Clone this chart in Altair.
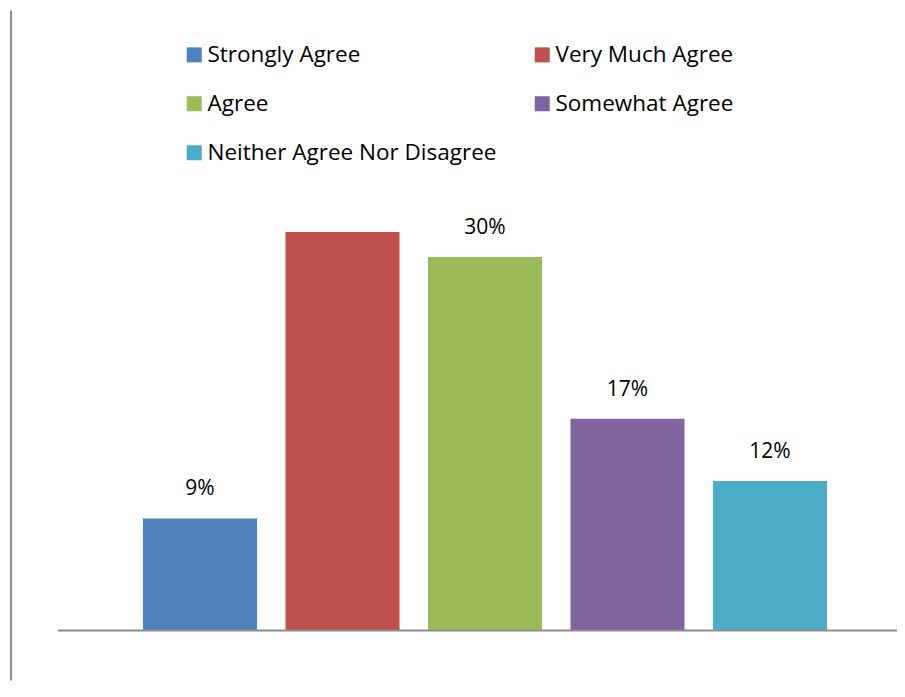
import altair as alt
import pandas as pd

categories = ["Strongly Agree", "Very Much Agree", "Agree", "Somewhat Agree", "Neither Agree Nor Disagree"]
values = [9, 32, 30, 17, 12]
labels = ["9%", "", "30%", "17%", "12%"]
colors = ["#4F81BD", "#C0504D", "#9BBB59", "#8064A2", "#4BACC6"]

df = pd.DataFrame({"category": categories, "value": values, "label": labels})

FONT = "Open Sans"
W, H = 839, 498

xscale = alt.Scale(domain=categories, range=[70.75, 783.25], paddingInner=0.2, paddingOuter=0.1, round=False)
yscale = alt.Scale(domain=[0, 40], nice=False)

base = alt.Chart(df)

bars = base.mark_bar().encode(
    x=alt.X("category:N", scale=xscale, axis=None, sort=categories),
    y=alt.Y("value:Q", scale=yscale, axis=None),
    color=alt.Color(
        "category:N",
        scale=alt.Scale(domain=categories, range=colors),
        legend=alt.Legend(
            title=None,
            orient="none",
            direction="horizontal",
            legendX=125,
            legendY=-89,
            columns=2,
            columnPadding=34,
            rowPadding=26,
            symbolType="square",
            symbolSize=225,
            symbolStrokeWidth=0,
            labelFont=FONT,
            labelFontSize=22.5,
            labelColor="#000000",
            labelOffset=2,
            labelLimit=400,
            padding=0,
        ),
    ),
)

text = base.mark_text(font=FONT, fontSize=21, color="#000000", baseline="middle", dy=-29).encode(
    x=alt.X("category:N", scale=xscale, sort=categories),
    y=alt.Y("value:Q", scale=yscale),
    text="label:N",
)

axis_df = pd.DataFrame({"base": [0]})
xaxis_line = alt.Chart(axis_df).mark_rule(color="#8c8c8c", strokeWidth=2).encode(
    y=alt.Y("base:Q", scale=yscale),
    x=alt.value(0),
    x2=alt.value(W),
)
left_line = alt.Chart(axis_df).mark_rule(color="#8c8c8c", strokeWidth=2).encode(
    x=alt.value(-47),
    y=alt.value(-122),
    y2=alt.value(H + 50),
)

chart = alt.layer(bars, text, xaxis_line, left_line).properties(
    width=W,
    height=H,
    autosize=alt.AutoSizeParams(type="none"),
    padding={"left": 50, "top": 124.5, "right": 0, "bottom": 50},
).configure_view(strokeWidth=0)

chart.save("out.html", embed_options={"renderer": "svg", "actions": False})
